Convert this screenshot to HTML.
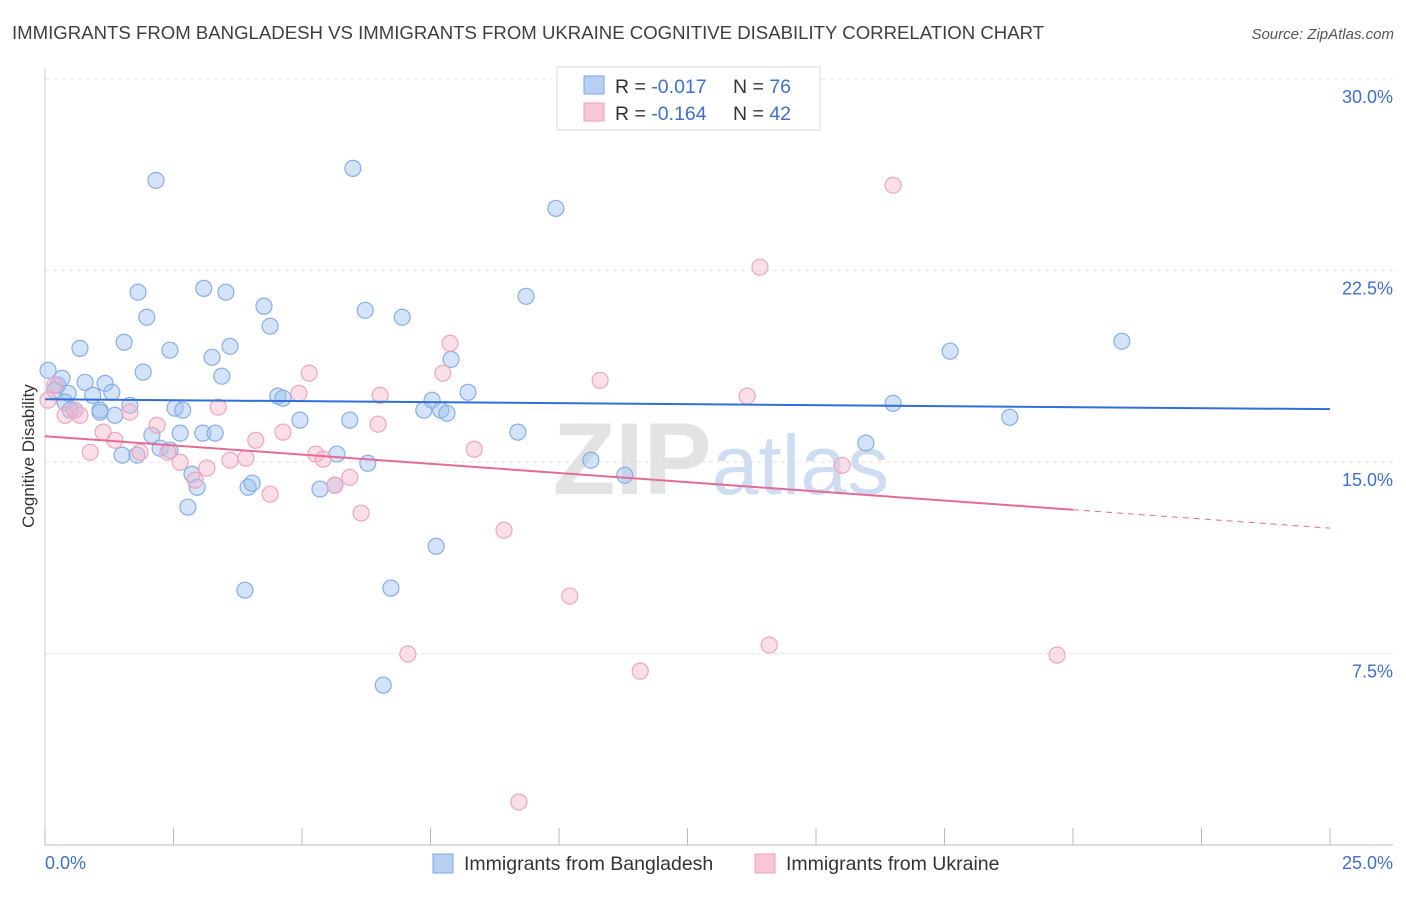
<!DOCTYPE html>
<html><head><meta charset="utf-8"><style>
body{margin:0;background:#fff;font-family:"Liberation Sans",sans-serif;}
svg text{font-family:"Liberation Sans",sans-serif;}
</style></head><body>
<svg id="chart" width="1406" height="892" viewBox="0 0 1406 892" xmlns="http://www.w3.org/2000/svg">
<text x="12" y="39" font-size="18.6" fill="#3f3f3f">IMMIGRANTS FROM BANGLADESH VS IMMIGRANTS FROM UKRAINE COGNITIVE DISABILITY CORRELATION CHART</text>
<text x="1394" y="39" font-size="15" fill="#555" font-style="italic" text-anchor="end">Source: ZipAtlas.com</text>
<g id="grid"></g>
<text x="553" y="494" font-size="102" fill="#d8d8d8" font-family="Liberation Serif" font-weight="bold" opacity="0.7">ZIP<tspan fill="#bcd0ee" font-family="Liberation Sans" font-weight="normal" font-size="84">atlas</tspan></text>
<g id="pts"></g>
<g id="trends"></g>
<text transform="translate(34,456) rotate(-90)" font-size="17" fill="#333" text-anchor="middle">Cognitive Disability</text>
<text x="45" y="869" font-size="18" fill="#3d6fd0">0.0%</text>
<text x="1393" y="869" font-size="18" fill="#3d6fd0" text-anchor="end">25.0%</text>
<g>
<rect x="557" y="67" width="263" height="63" fill="#fff" stroke="#d8d8d8"/>
<rect x="584" y="76" width="20" height="18" fill="#b7cff3" stroke="#7fa6e0"/>
<rect x="584" y="103" width="20" height="18" fill="#f8c6d6" stroke="#eaa2bc"/>
<text x="615" y="93" font-size="19.5" fill="#333">R = <tspan fill="#3d6fd0">-0.017</tspan></text>
<text x="733" y="93" font-size="19.5" fill="#333">N = <tspan fill="#3d6fd0">76</tspan></text>
<text x="615" y="120" font-size="19.5" fill="#333">R = <tspan fill="#3d6fd0">-0.164</tspan></text>
<text x="733" y="120" font-size="19.5" fill="#333">N = <tspan fill="#3d6fd0">42</tspan></text>
</g>
<g>
<rect x="433" y="854" width="20" height="19" fill="#b7cff3" stroke="#7fa6e0"/>
<text x="464" y="870" font-size="19.5" fill="#333">Immigrants from Bangladesh</text>
<rect x="755" y="854" width="20" height="19" fill="#f8c6d6" stroke="#eaa2bc"/>
<text x="786" y="870" font-size="19.5" fill="#333">Immigrants from Ukraine</text>
</g>
</svg>
<script>
const yTicks=[7.5,15,22.5,30];
const yTickLabels=["7.5%","15.0%","22.5%","30.0%"];
const xTicks=[0,2.5,5,7.5,10,12.5,15,17.5,20,22.5,25];
const blueX=[0.06,0.25,0.33,0.19,0.45,0.58,0.39,0.78,0.68,0.93,1.07,1.17,1.30,1.36,1.50,1.54,1.65,1.79,1.81,1.91,1.98,2.08,2.16,2.24,2.43,2.43,2.53,2.63,2.68,2.78,2.86,2.96,3.07,3.09,3.25,3.31,3.44,3.52,3.60,3.95,4.03,4.26,4.38,4.53,4.63,4.96,5.35,5.64,5.68,5.93,5.99,6.23,6.28,6.58,6.73,6.95,7.37,7.53,7.61,7.70,7.82,7.90,8.23,9.20,9.36,9.94,10.62,11.28,15.97,16.50,17.61,18.77,20.95,3.89,1.07,0.49];
const blueY=[18.59,18.01,18.28,17.81,17.69,17.03,17.34,18.12,19.45,17.61,17.03,18.08,17.73,16.83,15.27,19.69,17.22,15.27,21.65,18.52,20.67,16.05,26.03,15.54,15.46,19.38,17.11,16.13,17.03,13.23,14.52,14.01,16.13,21.80,19.10,16.13,18.36,21.65,19.53,14.01,14.17,21.10,20.32,17.58,17.50,16.64,13.94,14.09,15.31,16.64,26.50,20.94,14.95,6.26,10.06,20.67,17.03,17.42,11.70,17.03,16.91,19.02,17.73,16.17,21.49,24.93,15.07,14.48,15.74,17.30,19.34,16.75,19.73,9.98,16.95,17.03];
const pinkX=[0.06,0.19,0.39,0.58,0.68,0.88,1.13,1.36,1.65,1.85,2.18,2.39,2.63,2.92,3.15,3.37,3.60,3.91,4.10,4.38,4.63,4.94,5.14,5.27,5.41,5.64,5.93,6.15,6.48,6.52,7.06,7.74,7.88,8.35,8.93,9.22,10.21,10.80,11.58,13.66,13.91,14.09,15.51,16.50,19.69];
const pinkY=[17.42,18.01,16.83,17.03,16.83,15.38,16.17,15.85,16.95,15.38,16.44,15.38,14.99,14.29,14.76,17.15,15.07,15.15,15.85,13.74,16.17,17.69,18.48,15.31,15.11,14.09,14.40,13.00,16.48,17.61,7.48,18.48,19.65,15.50,12.33,1.68,9.75,18.20,6.81,17.58,22.63,7.83,14.87,25.84,7.44];
const blueTrend=[17.46,17.07];
const pinkTrend=[16.01,12.41];
const pinkSolidEnd=20.0;

const NS="http://www.w3.org/2000/svg";
const X0=45,X1=1330,Y0=845,Y30=79;
const sx=v=>X0+(v/25)*(X1-X0);
const sy=v=>Y0-(v/30)*(Y0-Y30);
function mk(tag,attrs,parent){const e=document.createElementNS(NS,tag);for(const k in attrs)e.setAttribute(k,attrs[k]);parent.appendChild(e);return e;}
const grid=document.getElementById('grid');
yTicks.forEach((t,i)=>{
  const l=mk('line',{x1:X0,x2:1393,y1:sy(t),y2:sy(t),stroke:'#e3e3e3','stroke-dasharray':'4,4'},grid);
  
  
  const tx=mk('text',{x:1393,y:sy(t)+24,'font-size':18,fill:'#3d6fd0','text-anchor':'end'},grid);
  tx.textContent=yTickLabels[i];
  
  
});
const ax=mk('line',{x1:X0,x2:1393,y1:Y0,y2:Y0,stroke:'#bbb'},grid);


const ay=mk('line',{x1:X0,x2:X0,y1:68,y2:Y0,stroke:'#ccc'},grid);


xTicks.forEach(t=>{
  const l=mk('line',{x1:sx(t),x2:sx(t),y1:828,y2:Y0,stroke:'#bbb'},grid);
  
  
});
const pts=document.getElementById('pts');
blueX.forEach((x,i)=>{
  const c=mk('circle',{cx:sx(x),cy:sy(blueY[i]),r:8,fill:'rgba(160,192,240,0.45)',stroke:'#86aee6','stroke-width':1.2},pts);
  
  
});
pinkX.forEach((x,i)=>{
  const c=mk('circle',{cx:sx(x),cy:sy(pinkY[i]),r:8,fill:'rgba(246,184,204,0.45)',stroke:'#eca6bf','stroke-width':1.2},pts);
  
  
});
const tr=document.getElementById('trends');
const bl=mk('line',{x1:sx(0),y1:sy(blueTrend[0]),x2:sx(25),y2:sy(blueTrend[1]),stroke:'#2f6fd6','stroke-width':2},tr);


const pAt=x=>pinkTrend[0]+(pinkTrend[1]-pinkTrend[0])*x/25;
const pl=mk('line',{x1:sx(0),y1:sy(pinkTrend[0]),x2:sx(pinkSolidEnd),y2:sy(pAt(pinkSolidEnd)),stroke:'#e46b98','stroke-width':2},tr);


const pd=mk('line',{x1:sx(pinkSolidEnd),y1:sy(pAt(pinkSolidEnd)),x2:sx(25),y2:sy(pinkTrend[1]),stroke:'#e46b98','stroke-width':1,'stroke-dasharray':'6,5'},tr);


</script>
</body></html>
